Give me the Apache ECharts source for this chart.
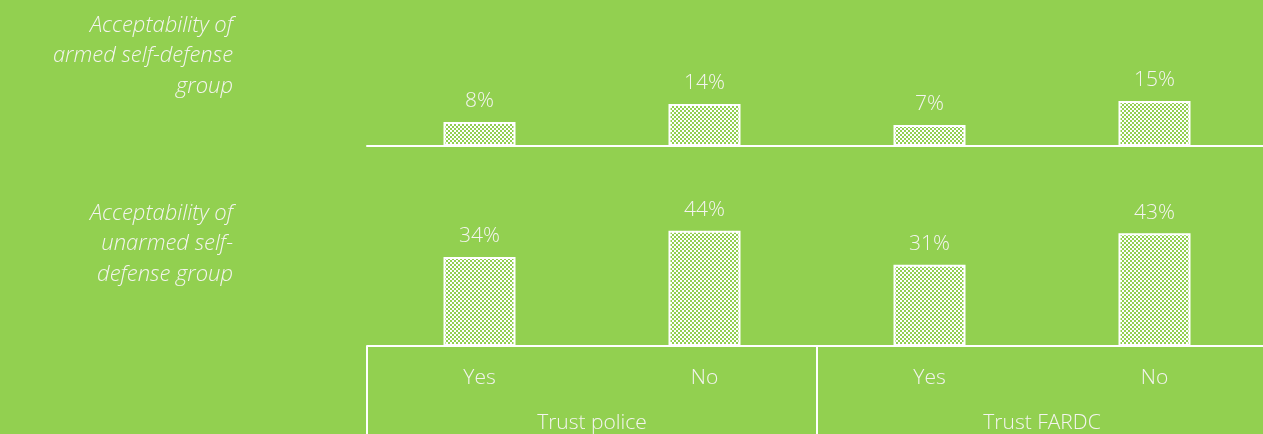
<!DOCTYPE html>
<html>
<head>
<meta charset="utf-8">
<script src="https://cdn.jsdelivr.net/npm/echarts@6/dist/echarts.min.js"></script>
<style>
  html, body { margin: 0; padding: 0; background: #92D050; }
  #chart { width: 1263px; height: 434px; }
</style>
</head>
<body>
<div id="chart"></div>
<script>
// Answer categories and their grouping
const categories = ['Yes', 'No', 'Yes', 'No'];
const groups = ['Trust police', 'Trust FARDC'];

// Share of respondents (%) finding each kind of group acceptable
const armedValues = [8, 14, 7, 15];
const unarmedValues = [34, 44, 31, 43];

// Row labels
const rowLabels = [
  'Acceptability of\narmed self-defense\ngroup',
  'Acceptability of\nunarmed self-\ndefense group'
];

const GREEN = '#92D050';
const TEXT = '#F4F4F0';
const FONT = '"Open Sans", sans-serif';
const WEIGHT = 300;

// small checkerboard used as bar fill
function checker() {
  const c = document.createElement('canvas');
  c.width = 4; c.height = 4;
  const g = c.getContext('2d');
  g.fillStyle = GREEN; g.fillRect(0, 0, 4, 4);
  g.fillStyle = '#ffffff';
  g.fillRect(0, 0, 2, 2);
  g.fillRect(2, 2, 2, 2);
  return c;
}
const pattern = { image: checker(), repeat: 'repeat' };

const chart = echarts.init(document.getElementById('chart'), null, { renderer: 'canvas' });

const barStyle = { color: pattern, borderColor: '#ffffff', borderWidth: 2 };
const labelStyle = {
  show: true, position: 'top', distance: 10,
  color: TEXT, fontFamily: FONT, fontSize: 21, fontWeight: WEIGHT,
  formatter: p => p.value + '%'
};
const axisText = { color: TEXT, fontFamily: FONT, fontSize: 21, fontWeight: WEIGHT };

chart.setOption({
  backgroundColor: GREEN,
  animation: false,
  grid: [
    { left: 367, width: 900, top: 86, height: 60, outerBoundsMode: 'none' },
    { left: 367, width: 900, top: 215, height: 131, outerBoundsMode: 'none' }
  ],
  xAxis: [
    {
      gridIndex: 0, type: 'category', data: categories,
      axisLine: { lineStyle: { color: '#ffffff', width: 2 } },
      axisTick: { show: false }, axisLabel: { show: false }
    },
    {
      gridIndex: 1, type: 'category', data: categories,
      axisLine: { show: false }, axisTick: { show: false },
      axisLabel: Object.assign({ margin: 22 }, axisText)
    },
    {
      gridIndex: 1, type: 'category', data: groups, position: 'bottom',
      axisLine: { lineStyle: { color: '#ffffff', width: 2 } },
      axisTick: { show: true, inside: false, length: 92, lineStyle: { color: '#ffffff', width: 2 } },
      axisLabel: Object.assign({ margin: 67 }, axisText)
    }
  ],
  yAxis: [
    { gridIndex: 0, type: 'value', min: 0, max: 20, show: false },
    { gridIndex: 1, type: 'value', min: 0, max: 50, show: false }
  ],
  series: [
    {
      type: 'bar', xAxisIndex: 0, yAxisIndex: 0, data: armedValues,
      barWidth: 72, itemStyle: barStyle, label: labelStyle
    },
    {
      type: 'bar', xAxisIndex: 1, yAxisIndex: 1, data: unarmedValues,
      barWidth: 72, itemStyle: barStyle, label: labelStyle
    }
  ],
  graphic: rowLabels.map((t, i) => ({
    type: 'text',
    x: 233, y: i === 0 ? 10 : 198,
    style: {
      text: t, align: 'right', verticalAlign: 'top',
      fill: TEXT, font: 'italic ' + WEIGHT + ' 22px ' + FONT, lineHeight: 30.5
    }
  }))
});
</script>
</body>
</html>
